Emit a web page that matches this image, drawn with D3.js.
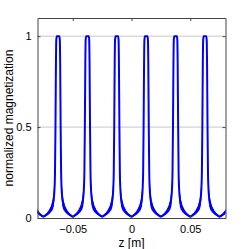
<!DOCTYPE html>
<html>
<head>
<meta charset="utf-8">
<script src="https://cdn.jsdelivr.net/npm/d3@7"></script>
<style>
  body { margin: 0; background: #fff; }
  text { font-family: "Liberation Sans", Arial, sans-serif; }
</style>
</head>
<body>
<div id="chart"></div>
<script>
// peak positions along z [m]
const peakCenters = [-0.0875, -0.0625, -0.0375, -0.0125, 0.0125, 0.0375, 0.0625, 0.0875];

// half profile of one peak (distance from center, value)
const profileDist = [0, 0.0011, 0.0015, 0.0018, 0.0022, 0.0026, 0.0031, 0.0036, 0.0045, 0.006, 0.008, 0.010, 0.0125];
const profileVal  = [1.0, 1.0, 0.98, 0.85, 0.5, 0.25, 0.15, 0.11, 0.075, 0.05, 0.03, 0.018, 0.008];
// spread of the noisy band around the curve
const profileNoise = [0, 0, 0, 0, 0, 0.02, 0.05, 0.045, 0.03, 0.018, 0.011, 0.007, 0.005];

const xTicks = [-0.05, 0, 0.05];
const yTicks = [0, 0.5, 1];

const WIDTH = 249;
const HEIGHT = 249;
const margin = { left: 37.5, right: 23.5, top: 18, bottom: 31 };

const x = d3.scaleLinear().domain([-0.08, 0.08]).range([margin.left, WIDTH - margin.right]);
const y = d3.scaleLinear().domain([0, 1.1]).range([HEIGHT - margin.bottom, margin.top]);

// assemble points: for each peak the mirrored profile
let points = [];
peakCenters.forEach(c => {
    for (let i = profileDist.length - 1; i > 0; i--) {
        points.push({ z: c - profileDist[i], v: profileVal[i], n: profileNoise[i] });
    }
    for (let i = 0; i < profileDist.length; i++) {
        points.push({ z: c + profileDist[i], v: profileVal[i], n: profileNoise[i] });
    }
});

const svg = d3.select("#chart")
    .append("svg")
    .attr("width", WIDTH)
    .attr("height", HEIGHT);

svg.append("defs").append("clipPath")
    .attr("id", "clip")
    .append("rect")
    .attr("x", margin.left)
    .attr("y", margin.top)
    .attr("width", WIDTH - margin.left - margin.right)
    .attr("height", HEIGHT - margin.top - margin.bottom);

// horizontal grid
svg.append("g")
    .selectAll("line")
    .data(yTicks.filter(d => d > 0))
    .enter()
    .append("line")
    .attr("x1", margin.left)
    .attr("x2", WIDTH - margin.right)
    .attr("y1", d => y(d))
    .attr("y2", d => y(d))
    .attr("stroke", "#c8c8c8")
    .attr("stroke-width", 1);

const plot = svg.append("g").attr("clip-path", "url(#clip)");

// noisy band
plot.append("path")
    .datum(points)
    .attr("d", d3.area()
        .x(d => x(d.z))
        .y0(d => y(Math.max(0, d.v - d.n)))
        .y1(d => y(d.v + d.n)))
    .attr("fill", "#0000ff");

plot.append("path")
    .datum(points)
    .attr("d", d3.line().x(d => x(d.z)).y(d => y(d.v)).curve(d3.curveMonotoneX))
    .attr("fill", "none")
    .attr("stroke", "#0000ff")
    .attr("stroke-width", 2)
    .attr("stroke-linejoin", "round");

// axes box with inward ticks
const axisB = d3.axisBottom(x).tickValues(xTicks).tickSizeInner(-3).tickSizeOuter(0)
    .tickPadding(7).tickFormat(d => d === 0 ? "0" : d3.format(".2f")(d).replace("-", "\u2212"));
const axisT = d3.axisTop(x).tickValues(xTicks).tickSizeInner(-3).tickSizeOuter(0).tickFormat("");
const axisL = d3.axisLeft(y).tickValues(yTicks).tickSizeInner(-3).tickSizeOuter(0)
    .tickPadding(6).tickFormat(d => d3.format("")(d));
const axisR = d3.axisRight(y).tickValues(yTicks).tickSizeInner(-3).tickSizeOuter(0).tickFormat("");

const axes = [
    svg.append("g").attr("transform", `translate(0,${HEIGHT - margin.bottom})`).call(axisB),
    svg.append("g").attr("transform", `translate(0,${margin.top})`).call(axisT),
    svg.append("g").attr("transform", `translate(${margin.left},0)`).call(axisL),
    svg.append("g").attr("transform", `translate(${WIDTH - margin.right},0)`).call(axisR)
];
axes.forEach(g => {
    g.select(".domain").attr("stroke", "#444");
    g.selectAll(".tick line").attr("stroke", "#444");
    g.selectAll("text").attr("font-size", 11).attr("fill", "#000")
        .style("font-family", "'Liberation Sans', Arial, sans-serif");
});

svg.append("text")
    .attr("x", x(0))
    .attr("y", 246.5)
    .attr("text-anchor", "middle")
    .attr("font-size", 12)
    .text("z [m]");

svg.append("text")
    .attr("transform", `translate(13,${y(0.55)}) rotate(-90)`)
    .attr("text-anchor", "middle")
    .attr("font-size", 12)
    .text("normalized magnetization");
</script>
</body>
</html>
